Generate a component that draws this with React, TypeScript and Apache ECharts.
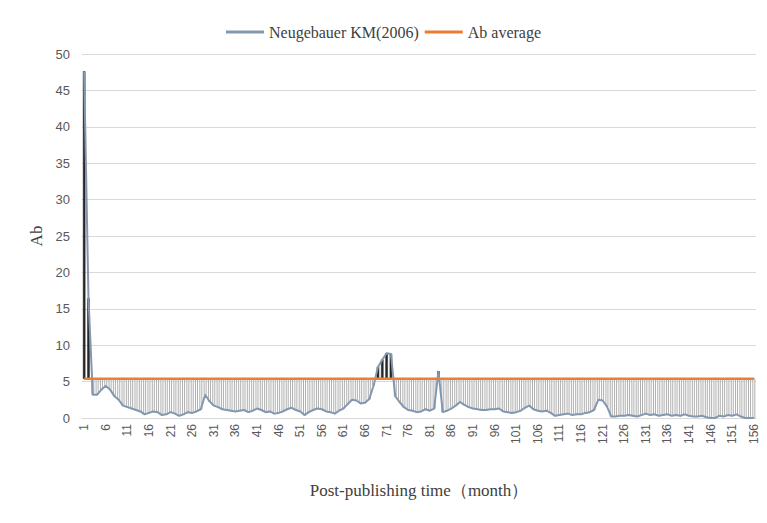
import React, { useEffect, useRef } from "react";
import * as echarts from "echarts";

const months: string[] = Array.from({ length: 156 }, (_, i) => String(i + 1));

const neugebauer: number[] = [
  47.6, 16.4, 3.2, 3.2, 3.9, 4.4, 3.9, 3.0, 2.5, 1.7,
  1.5, 1.3, 1.1, 0.9, 0.5, 0.7, 0.9, 0.8, 0.4, 0.5,
  0.8, 0.6, 0.3, 0.5, 0.8, 0.7, 0.9, 1.2, 3.2, 2.3,
  1.7, 1.5, 1.2, 1.1, 1.0, 0.9, 1.0, 1.1, 0.8, 1.0,
  1.3, 1.1, 0.8, 0.9, 0.6, 0.7, 0.9, 1.2, 1.4, 1.1,
  0.9, 0.4, 0.8, 1.1, 1.3, 1.2, 0.9, 0.8, 0.6, 1.0,
  1.3, 1.9, 2.5, 2.4, 2.0, 2.1, 2.6, 4.5, 7.0, 8.0,
  8.9, 8.8, 3.0, 2.2, 1.5, 1.1, 1.0, 0.8, 0.9, 1.2,
  1.0, 1.3, 6.4, 0.8, 1.0, 1.3, 1.7, 2.2, 1.8, 1.5,
  1.3, 1.2, 1.1, 1.1, 1.2, 1.2, 1.3, 0.9, 0.8, 0.7,
  0.8, 1.0, 1.4, 1.7, 1.2, 1.0, 0.9, 1.0, 0.7, 0.3,
  0.4, 0.5, 0.6, 0.4, 0.5, 0.5, 0.7, 0.8, 1.1, 2.5,
  2.4, 1.6, 0.2, 0.2, 0.3, 0.3, 0.4, 0.3, 0.2, 0.4,
  0.6, 0.4, 0.5, 0.3, 0.4, 0.5, 0.3, 0.4, 0.3, 0.5,
  0.3, 0.2, 0.2, 0.3, 0.1, 0.0, 0.0, 0.3, 0.2, 0.4,
  0.3, 0.5, 0.2, 0.0, 0.0, 0.0,
];

const AB_AVERAGE = 5.4;
const abAverage: number[] = months.map(() => AB_AVERAGE);

const seriesNames = ["Neugebauer KM(2006)", "Ab average"];
const yTicks = { min: 0, max: 50, interval: 5 };

export default function App() {
  const ref = useRef<HTMLDivElement>(null);

  useEffect(() => {
    if (!ref.current) return;
    const chart = echarts.init(ref.current, null, { renderer: "svg" });
    const barData = neugebauer.map((v, i) => [i, v, abAverage[i]]);

    chart.setOption({
      animation: false,
      backgroundColor: "#ffffff",
      legend: {
        data: seriesNames,
        top: 19,
        left: "center",
        icon: "rect",
        itemWidth: 38,
        itemHeight: 3,
        itemGap: 6,
        textStyle: {
          fontFamily: "Liberation Serif",
          fontSize: 16,
          color: "#404040",
        },
      },
      grid: { left: 82, right: 11, top: 54, bottom: 105 },
      xAxis: {
        type: "category",
        data: months,
        boundaryGap: true,
        name: "Post-publishing time（month）",
        nameLocation: "middle",
        nameGap: 64,
        nameTextStyle: {
          fontFamily: "Liberation Serif",
          fontSize: 17,
          color: "#404040",
        },
        axisLine: { show: true, lineStyle: { color: "#d9d9d9" } },
        axisTick: { show: false },
        axisLabel: {
          interval: 4,
          rotate: 90,
          fontFamily: "Liberation Sans",
          fontSize: 12,
          color: "#595959",
          margin: 6,
        },
      },
      yAxis: {
        type: "value",
        min: yTicks.min,
        max: yTicks.max,
        interval: yTicks.interval,
        name: "Ab",
        nameLocation: "middle",
        nameGap: 36,
        nameRotate: 90,
        nameTextStyle: {
          fontFamily: "Liberation Serif",
          fontSize: 17,
          color: "#404040",
        },
        axisLine: { show: false },
        axisTick: { show: false },
        axisLabel: {
          fontFamily: "Liberation Sans",
          fontSize: 13,
          color: "#595959",
          margin: 12,
        },
        splitLine: { lineStyle: { color: "#d9d9d9", width: 1 } },
      },
      series: [
        {
          type: "custom",
          name: "bars",
          z: 1,
          silent: true,
          data: barData,
          renderItem: (params: any, api: any) => {
            const idx = api.value(0);
            const v = api.value(1);
            const avg = api.value(2);
            const p1 = api.coord([idx, v]);
            const p2 = api.coord([idx, avg]);
            const w = 2;
            const top = Math.min(p1[1], p2[1]);
            const h = Math.abs(p1[1] - p2[1]);
            const down = v > avg;
            return {
              type: "rect",
              shape: { x: p1[0] - w / 2, y: top, width: w, height: h },
              style: down
                ? { fill: "#262626", stroke: "#262626", lineWidth: 0.5 }
                : { fill: "#ffffff", stroke: "#9a9a9a", lineWidth: 0.8 },
            };
          },
        },
        {
          type: "line",
          name: seriesNames[0],
          data: neugebauer,
          showSymbol: false,
          z: 3,
          lineStyle: { color: "#8497b0", width: 2 },
          itemStyle: { color: "#8497b0" },
        },
        {
          type: "line",
          name: seriesNames[1],
          data: abAverage,
          showSymbol: false,
          z: 4,
          lineStyle: { color: "#ed7d31", width: 2.5 },
          itemStyle: { color: "#ed7d31" },
        },
      ],
    });

    return () => chart.dispose();
  }, []);

  return (
    <div
      ref={ref}
      style={{ position: "fixed", left: 0, top: 0, width: 767, height: 523 }}
    />
  );
}
